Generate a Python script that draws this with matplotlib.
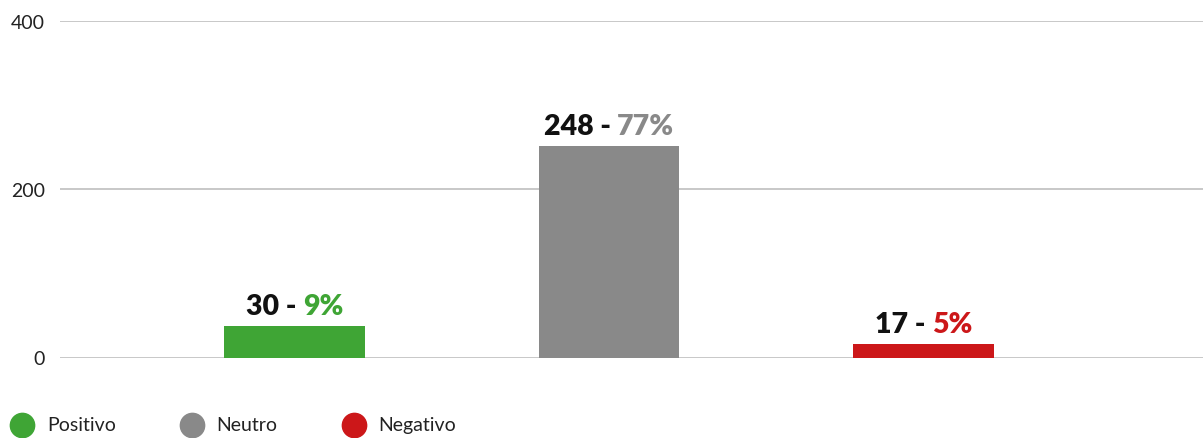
import matplotlib
matplotlib.use("Agg")
import matplotlib.pyplot as plt
from matplotlib.lines import Line2D
from matplotlib.offsetbox import TextArea, HPacker, AnnotationBbox

# ------ Data ------ #
categories = ["Positivo", "Neutro", "Negativo"]
counts = [30, 248, 17]
percents = ["9%", "77%", "5%"]
bar_heights = [37, 251, 16]          # heights as drawn in the picture
colors = ["#3fa535", "#898989", "#cc1719"]
y_ticks = [0, 200, 400]

plt.rcParams["font.family"] = ["Lato", "DejaVu Sans"]

# ------ Figure setup ------ #
W, H = 1203, 439
fig = plt.figure(figsize=(W / 100, H / 100), dpi=100)
ax = fig.add_axes([60 / W, 1 - 358.5 / H, (W - 60) / W, (358.5 - 22) / H])

x = list(range(len(categories)))
ax.bar(x, bar_heights, width=0.448, color=colors, zorder=3)

ax.set_xlim(-0.746, 2.889)
ax.set_ylim(0, 400)
ax.set_yticks(y_ticks)
ax.set_yticklabels([str(t) for t in y_ticks], fontsize=14, color="#222222")
ax.tick_params(axis="y", length=0, pad=11)
ax.set_xticks([])
for s in ax.spines.values():
    s.set_visible(False)
ax.grid(axis="y", color="#c8c8c8", linewidth=1.4, zorder=0)
ax.set_axisbelow(True)

# value labels: black count + coloured percent
for xi, h, c, p, col in zip(x, bar_heights, counts, percents, colors):
    t1 = TextArea(f"{c} - ", textprops=dict(fontsize=20.5, fontweight="heavy", color="#111111"))
    t2 = TextArea(p, textprops=dict(fontsize=20.5, fontweight="heavy", color=col))
    box = HPacker(children=[t1, t2], align="baseline", pad=0, sep=0)
    ab = AnnotationBbox(box, (xi, h), xybox=(0, 5), xycoords="data",
                        boxcoords="offset points", box_alignment=(0.5, 0),
                        frameon=False, annotation_clip=False)
    ax.add_artist(ab)

# legend, placed by hand
legend_marker_x = [22, 192, 354]
legend_text_x = [47, 216, 378]
ly = 1 - 426 / H
for mx, tx, name, col in zip(legend_marker_x, legend_text_x, categories, colors):
    fig.add_artist(Line2D([mx / W], [ly], marker="o", markersize=17.5, color=col,
                          linestyle="none", transform=fig.transFigure))
    fig.text(tx / W, ly, name, fontsize=14, va="center", ha="left", color="#222222")

plt.savefig("out.png", dpi=100)
